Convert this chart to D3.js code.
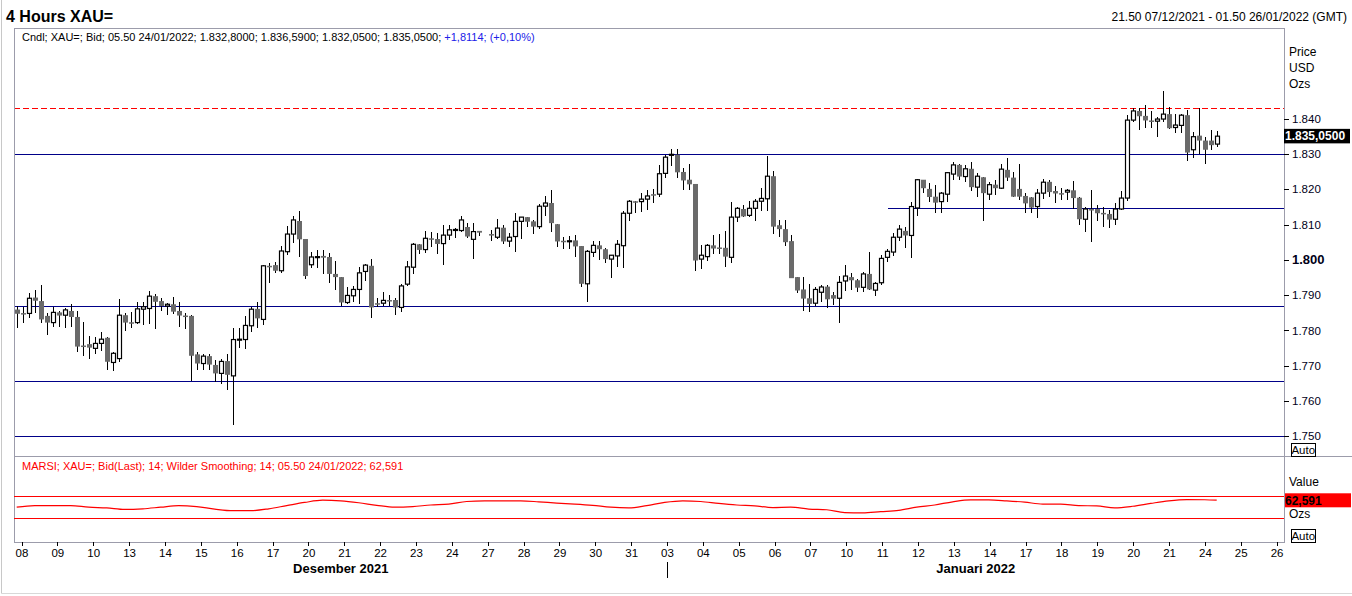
<!DOCTYPE html>
<html>
<head>
<meta charset="utf-8">
<script src="https://cdnjs.cloudflare.com/ajax/libs/d3/7.8.5/d3.min.js"></script>
<style>
  body { margin: 0; background: #fff; }
  svg { display: block; font-family: Arial, "Liberation Sans", sans-serif; }
</style>
</head>
<body>
<div id="chart"></div>
<script>
// Day tick labels (trading days) and month captions
const dayLabels = ["08","09","10","13","14","15","16","17","20","21","22","23","24","27","28","29","30","31",
                   "03","04","05","06","07","10","11","12","13","14","17","18","19","20","21","24","25","26"];
const monthLabels = ["Desember 2021", "Januari 2022"];
const priceTicks = [1750, 1760, 1770, 1780, 1790, 1800, 1810, 1820, 1830, 1840];

// 4-hour candles, index 0 = 21.50 07/12/2021 ... index 200 = 05.50 24/01/2022 (null = no candle)
const opens = [
1785.9,1784.9,1784.8,1789.3,1788.3,1784.1,1782.2,1785.1,1784.3,1785.5,
1783.8,1775.7,1776.1,1774.9,1776.3,1777.9,1770.9,1772.0,1784.3,1782.3,
1782.2,1786.0,1786.2,1789.7,1788.3,1786.9,1787.4,1785.5,1784.2,1784.1,
1773.2,1770.6,1772.7,1770.2,1767.8,1771.3,1767.1,1777.4,1777.4,1781.3,
1786.1,1783.1,1798.3,1798.5,1796.9,1802.3,1807.3,1811.0,1805.9,1798.6,
1800.8,1801.1,1800.8,1796.0,1795.1,1787.9,1789.8,1791.6,1796.7,1798.3,
1787.7,1787.7,1788.6,1788.6,1786.5,1793.1,1797.9,1804.4,1802.9,1806.1,
1805.9,1804.6,1807.0,1808.5,1808.3,1809.3,1805.8,1808.2,null,1807.3,
1806.4,1809.1,1805.3,1806.6,1810.9,1812.1,1810.9,1809.4,1815.2,1816.1,
1810.1,1805.4,1805.3,1805.5,1803.9,1793.2,1802.1,1804.1,1803.0,1800.2,
1801.1,1804.0,1813.2,1816.6,1816.5,1817.2,1818.6,1818.6,1824.5,1829.8,
1829.8,1824.9,1822.7,1821.5,1800.2,1800.9,1804.1,1803.5,1803.4,1800.7,
1812.1,1814.4,1812.6,1814.6,1816.6,1817.3,1823.7,1809.8,1808.7,1805.3,
1795.1,1791.6,1789.1,1787.7,1790.8,1792.4,1790.0,1789.1,1794.0,1795.1,
1794.2,1792.2,1796.0,1791.4,1793.5,1800.7,1802.2,1806.4,1808.2,1806.9,
1814.7,1822.7,1820.1,1817.9,1816.5,1818.6,1824.3,1826.9,1823.6,1825.8,
1820.6,1823.4,1818.6,1821.3,1820.3,1825.5,1823.3,1820.1,1818.1,1817.7,
1815.1,1818.9,1822.1,1819.5,1818.9,1819.2,1819.7,1817.6,1811.5,1814.4,
1814.4,1813.3,1813.0,1811.5,1814.4,1817.5,1839.6,1842.2,1840.8,1839.5,
1839.3,1839.9,1841.3,1837.5,1838.1,1841.0,1831.2,1835.2,1833.8,1833.8,
1832.80];
const highs = [
1787.0,1786.7,1790.5,1791.4,1792.9,1784.8,1786.7,1785.5,1786.2,1787.4,
1785.5,1782.5,1778.4,1778.2,1779.4,1778.2,1773.8,1788.9,1784.8,1785.1,
1788.0,1788.0,1791.3,1790.2,1789.1,1787.7,1789.6,1787.9,1784.8,1784.4,
1773.8,1773.2,1773.2,1771.6,1771.8,1773.3,1780.6,1780.8,1784.1,1786.7,
1787.9,1798.5,1799.0,1799.4,1803.9,1809.6,1812.3,1813.9,1805.9,1802.2,
1802.8,1802.8,1802.0,1799.7,1795.1,1792.2,1792.6,1797.9,1798.7,1800.2,
1789.3,1790.8,1790.0,1789.3,1793.1,1799.8,1804.8,1804.4,1808.2,1807.8,
1807.5,1809.9,1809.9,1809.1,1812.3,1810.4,1810.4,1808.2,null,1808.5,
1811.6,1809.9,1807.5,1813.2,1812.1,1812.1,1811.3,1815.8,1818.0,1819.8,
1810.1,1806.6,1806.8,1806.9,1803.9,1802.7,1805.4,1805.4,1803.3,1801.3,
1805.6,1813.9,1817.0,1816.7,1818.9,1819.8,1820.1,1826.9,1829.8,1831.5,
1831.5,1826.0,1827.2,1821.5,1804.1,1804.5,1807.1,1807.3,1808.2,1816.3,
1815.1,1815.4,1816.7,1817.2,1820.3,1829.5,1825.2,1811.3,1811.3,1807.1,
1795.1,1795.0,1793.2,1792.2,1792.9,1792.9,1791.0,1795.4,1798.5,1796.2,
1794.6,1796.6,1802.3,1793.8,1801.4,1803.0,1807.7,1809.9,1809.2,1816.3,
1823.0,1822.7,1821.7,1821.3,1819.2,1825.0,1827.6,1827.2,1826.8,1827.7,
1824.6,1823.4,1822.0,1822.7,1827.2,1828.8,1824.9,1827.2,1818.9,1817.7,
1820.1,1823.0,1822.5,1820.8,1820.3,1820.1,1822.4,1817.8,1815.1,1819.8,
1815.6,1815.1,1814.0,1816.0,1819.4,1841.1,1843.0,1843.0,1844.0,1842.1,
1840.4,1847.8,1843.3,1841.3,1841.3,1842.6,1836.1,1843.0,1834.8,1836.7,
1836.59];
const lows = [
1780.8,1782.2,1783.6,1784.8,1782.2,1778.7,1781.0,1781.0,1780.8,1781.0,
1773.8,1772.8,1771.8,1773.3,1774.1,1768.7,1768.5,1771.1,1779.9,1780.6,
1781.9,1781.5,1781.8,1780.4,1785.5,1784.4,1784.5,1781.0,1780.3,1765.6,
1768.9,1768.9,1768.7,1765.4,1764.9,1763.1,1753.1,1774.9,1774.8,1779.6,
1780.8,1781.5,1793.5,1796.4,1796.4,1801.3,1804.7,1800.9,1794.6,1797.8,
1797.8,1796.0,1793.3,1791.4,1786.9,1787.4,1787.9,1787.6,1794.1,1783.6,
1786.5,1787.0,1786.9,1784.3,1785.3,1792.6,1796.1,1801.7,1802.0,1803.5,
1801.7,1798.4,1805.6,1806.1,1807.8,1806.1,1800.3,1806.8,null,1805.2,
1805.8,1804.5,1803.6,1802.1,1805.8,1809.4,1807.3,1808.8,1812.3,1807.8,
1803.5,1803.1,1803.1,1800.7,1792.4,1788.1,1800.9,1800.0,1799.2,1794.8,
1797.9,1797.6,1810.9,1813.4,1813.5,1814.2,1816.1,1817.8,1823.2,1826.5,
1823.2,1819.8,1819.7,1796.9,1797.5,1799.8,1801.7,1801.7,1797.9,1799.0,
1810.6,1812.1,1812.1,1811.1,1813.9,1813.9,1807.3,1806.6,1803.9,1794.8,
1790.5,1785.6,1785.3,1786.9,1788.1,1786.2,1787.2,1782.0,1791.3,1791.4,
1791.0,1790.8,1791.4,1789.8,1792.9,1799.5,1801.1,1805.2,1803.3,1800.4,
1812.5,1818.9,1816.3,1813.4,1813.2,1816.5,1822.5,1822.7,1822.1,1819.4,
1817.8,1810.9,1817.0,1818.4,1820.0,1822.4,1817.9,1817.0,1813.2,1813.2,
1811.8,1817.3,1817.7,1816.0,1817.0,1817.0,1814.3,1809.9,1808.0,1805.0,
1811.0,1809.4,1809.1,1809.9,1814.2,1816.8,1839.0,1836.9,1837.4,1837.4,
1834.7,1839.2,1837.1,1835.9,1835.9,1827.9,1829.0,1830.0,1827.1,1831.1,
1832.05];
const closes = [
1784.7,1784.8,1789.1,1788.4,1783.1,1782.2,1785.1,1784.2,1785.8,1783.8,
1775.4,1775.6,1775.1,1776.3,1777.5,1771.1,1773.5,1784.3,1782.2,1782.2,
1786.1,1786.7,1789.7,1788.1,1786.9,1787.4,1785.3,1784.2,1784.1,1772.8,
1770.6,1772.7,1770.3,1767.8,1771.2,1767.4,1777.4,1777.5,1781.4,1786.0,
1783.4,1798.3,1798.2,1796.9,1802.5,1807.3,1811.3,1805.8,1795.4,1800.8,
1800.9,1800.6,1796.0,1795.1,1787.9,1789.9,1791.6,1796.3,1798.5,1786.5,
1787.6,1788.5,1788.2,1786.5,1792.6,1798.0,1804.4,1802.8,1806.1,1805.7,
1804.5,1807.0,1808.5,1808.6,1811.3,1806.6,1808.0,1807.7,null,1806.9,
1809.0,1805.2,1806.4,1810.9,1812.1,1810.8,1809.4,1815.2,1816.1,1810.4,
1805.2,1805.3,1805.4,1803.8,1793.2,1802.4,1804.1,1803.0,1800.2,1801.3,
1804.4,1813.2,1816.6,1816.4,1817.2,1818.1,1818.5,1824.4,1829.1,1829.9,
1824.8,1822.5,1821.4,1799.8,1801.3,1804.1,1803.2,1803.4,1800.9,1812.1,
1814.6,1812.3,1814.6,1816.6,1817.4,1823.7,1809.4,1808.7,1805.0,1794.8,
1791.3,1789.0,1787.5,1791.6,1792.3,1788.8,1789.0,1793.6,1795.4,1794.2,
1792.1,1796.0,1791.6,1793.3,1800.4,1802.4,1806.4,1808.7,1806.9,1815.1,
1822.7,1820.3,1817.8,1816.2,1818.9,1824.7,1826.9,1823.6,1825.8,1820.6,
1823.7,1818.9,1821.3,1820.3,1825.7,1823.3,1817.9,1817.9,1816.0,1814.8,
1818.9,1822.0,1819.2,1818.8,1818.8,1819.7,1817.5,1811.5,1814.4,1814.3,
1813.2,1812.9,1811.4,1814.4,1817.5,1839.6,1842.2,1840.7,1839.5,1839.4,
1839.9,1841.3,1837.3,1838.2,1841.0,1830.4,1834.9,1833.8,1831.2,1832.5,
1835.05];

// Horizontal reference levels drawn on the price panel
const supportLevels = [1829.9, 1786.8, 1765.5, 1749.8];
const partialLevel = { price: 1814.6, fromCandle: 145.2 };
const resistanceLevel = 1843.0;

// MARSI (14, Wilder), sampled every 3 candles, last sample on the final candle
const rsiValues = [
50.0,52.9,52.9,52.9,50.0,48.8,46.0,47.1,50.0,52.9,51.1,46.6,43.7,43.7,47.1,52.9,58.6,62.6,61.4,58.0,
53.4,50.0,51.1,54.0,55.7,60.3,61.4,61.4,61.4,59.7,57.4,55.7,53.4,50.0,48.8,52.9,58.6,61.4,60.3,56.8,
54.0,52.3,49.4,50.0,46.6,45.4,40.3,39.7,42.0,44.3,50.0,54.0,59.7,63.1,63.1,61.4,59.1,55.7,55.7,52.9,
52.3,48.8,51.7,56.8,61.4,63.7,63.4,62.591];
const rsiBands = [70, 30];

const W = 1352, H = 596;
const panel = { left: 14, right: 1284, top: 28, mid: 456, bottom: 542 };

const svg = d3.select("#chart")
  .append("svg")
    .attr("width", W)
    .attr("height", H);

// Scales
const x = d3.scaleLinear().domain([0, 200]).range([16.7, 1216.7]);
const xDay = d3.scaleLinear().domain([0, 35]).range([21.5, 1276.6]);
const y = d3.scaleLinear().domain([1750, 1840]).range([436.2, 118.7]);
const yR = d3.scaleLinear().domain([30, 70]).range([518.3, 496.1]);

const priceFmt = v => d3.format(",")(v).replace(/,/g, ".");
const row = v => Math.floor(v) + 0.5;

// Outer frame
svg.append("line").attr("x1", 1.5).attr("x2", 1.5).attr("y1", 0).attr("y2", 593.5)
  .attr("stroke", "#c8c8c8");
svg.append("line").attr("x1", 1.5).attr("x2", W).attr("y1", 593.5).attr("y2", 593.5)
  .attr("stroke", "#d8d8d8");

// Title and range
svg.append("text")
    .attr("x", 6).attr("y", 22)
    .style("font-size", "16px").style("font-weight", "bold")
    .text("4 Hours XAU=");
svg.append("text")
    .attr("x", 1347).attr("y", 21)
    .attr("text-anchor", "end")
    .style("font-size", "12px")
    .text("21.50 07/12/2021 - 01.50 26/01/2022 (GMT)");

// Reference lines
const ref = svg.append("g").attr("shape-rendering", "crispEdges");
ref.selectAll("line.sup")
  .data(supportLevels)
  .enter().append("line")
    .attr("x1", panel.left).attr("x2", panel.right)
    .attr("y1", d => row(y(d))).attr("y2", d => row(y(d)))
    .attr("stroke", "#000088");
ref.append("line")
    .attr("x1", x(partialLevel.fromCandle)).attr("x2", panel.right)
    .attr("y1", row(y(partialLevel.price))).attr("y2", row(y(partialLevel.price)))
    .attr("stroke", "#000088");
ref.append("line")
    .attr("x1", panel.left).attr("x2", panel.right)
    .attr("y1", row(y(resistanceLevel))).attr("y2", row(y(resistanceLevel)))
    .attr("stroke", "#ff0000")
    .attr("stroke-dasharray", "6,3");

// Candles
const candles = opens.map((o, i) => o == null ? null :
  { i, o, h: highs[i], l: lows[i], c: closes[i] }).filter(d => d);

const cg = svg.append("g");
cg.selectAll("line.wick")
  .data(candles)
  .enter().append("line")
    .attr("x1", d => Math.round(x(d.i)) + 0.5).attr("x2", d => Math.round(x(d.i)) + 0.5)
    .attr("y1", d => y(d.h)).attr("y2", d => y(d.l))
    .attr("stroke", "#000")
    .attr("stroke-width", 1)
    .attr("shape-rendering", "crispEdges");

cg.selectAll("rect.body")
  .data(candles)
  .enter().append("rect")
    .each(function(d) {
      const cx = Math.round(x(d.i)) + 0.5;
      const top = y(Math.max(d.o, d.c)), bot = y(Math.min(d.o, d.c));
      const up = d.c >= d.o;
      const r = d3.select(this);
      if (up) {
        const hgt = Math.max(bot - top, 1);
        r.attr("x", cx - 2).attr("width", 4)
         .attr("y", top).attr("height", hgt)
         .attr("fill", "#fff").attr("stroke", "#000").attr("stroke-width", 1.2);
      } else {
        r.attr("x", cx - 2.5).attr("width", 5)
         .attr("y", top).attr("height", Math.max(bot - top, 1.5))
         .attr("fill", "#6a6a6a");
      }
    });

// Panel frames
const frame = svg.append("g").attr("shape-rendering", "crispEdges")
  .attr("stroke", "#9c9cab").attr("fill", "none");
frame.append("rect")
    .attr("x", panel.left + 0.5).attr("y", panel.top + 0.5)
    .attr("width", panel.right - panel.left).attr("height", panel.bottom - panel.top);
frame.append("line")
    .attr("x1", panel.left).attr("x2", W)
    .attr("y1", panel.mid + 0.5).attr("y2", panel.mid + 0.5);

// Price axis
const yAxis = svg.append("g")
    .attr("transform", `translate(${panel.right},0)`)
    .call(d3.axisRight(y).tickValues(priceTicks).tickSize(5).tickPadding(3).tickFormat(priceFmt));
yAxis.select(".domain").remove();
yAxis.selectAll("text")
    .style("font-size", d => d === 1800 ? "13px" : "11.5px")
    .style("font-weight", d => d === 1800 ? "bold" : "normal")
    .attr("fill", "#000018")
    .attr("font-family", "Arial, 'Liberation Sans', sans-serif");
yAxis.selectAll("line").attr("stroke", "#000").attr("shape-rendering", "crispEdges");

// Right side captions
const sideLabel = (txt, yy) => svg.append("text")
    .attr("x", 1289).attr("y", yy).attr("dy", "0.35em")
    .style("font-size", "12px").text(txt);
sideLabel("Price", 52);
sideLabel("USD", 68);
sideLabel("Ozs", 84);

// Last price marker
const lastClose = closes[closes.length - 1];
svg.append("rect")
    .attr("x", panel.right).attr("y", y(lastClose) - 7.3)
    .attr("width", 66).attr("height", 14.5)
    .attr("fill", "#000");
svg.append("text")
    .attr("x", panel.right + 1).attr("y", y(lastClose)).attr("dy", "0.36em")
    .style("font-size", "12px").style("font-weight", "bold")
    .attr("fill", "#fff")
    .text("1.835,0500");

const autoBox = (yy) => {
  svg.append("rect").attr("x", 1291.5).attr("y", yy + 0.5).attr("width", 23.5).attr("height", 12.5)
    .attr("fill", "#fff").attr("stroke", "#000").attr("shape-rendering", "crispEdges");
  svg.append("text").attr("x", 1303.3).attr("y", yy + 7).attr("dy", "0.35em")
    .attr("text-anchor", "middle").style("font-size", "11.5px").text("Auto");
};
autoBox(443);
autoBox(529);

// Price panel header
const hdr = svg.append("text").attr("x", 22).attr("y", 41).style("font-size", "11px");
hdr.append("tspan").text("Cndl; XAU=; Bid; 05.50 24/01/2022; 1.832,8000; 1.836,5900; 1.832,0500; 1.835,0500; ");
hdr.append("tspan").attr("fill", "#2020e8").text("+1,8114; (+0,10%)");

// RSI panel
svg.append("text").attr("x", 22).attr("y", 470)
    .style("font-size", "11px").attr("fill", "#ff0000")
    .text("MARSI; XAU=; Bid(Last);  14; Wilder Smoothing; 14; 05.50 24/01/2022; 62,591");

svg.append("g").attr("shape-rendering", "crispEdges")
  .selectAll("line")
  .data(rsiBands)
  .enter().append("line")
    .attr("x1", panel.left).attr("x2", panel.right)
    .attr("y1", d => row(yR(d))).attr("y2", d => row(yR(d)))
    .attr("stroke", "#ff0000");

const rsiLine = d3.line()
    .x((d, k) => x(Math.min(k * 3, 200)))
    .y(d => yR(d))
    .curve(d3.curveMonotoneX);
svg.append("path")
    .datum(rsiValues)
    .attr("d", rsiLine)
    .attr("fill", "none")
    .attr("stroke", "#ff0000")
    .attr("stroke-width", 1.2);

sideLabel("Value", 481.5);
const lastRsi = rsiValues[rsiValues.length - 1];
svg.append("rect")
    .attr("x", panel.right + 1).attr("y", 493.3)
    .attr("width", 66).attr("height", 14)
    .attr("fill", "#ff0000");
svg.append("text")
    .attr("x", panel.right + 1).attr("y", 500.5).attr("dy", "0.36em")
    .style("font-size", "12px").style("font-weight", "bold")
    .text(d3.format(".3f")(lastRsi).replace(".", ","));
sideLabel("Ozs", 513.5);

// Time axis
const xAxis = svg.append("g")
    .attr("transform", `translate(0,${panel.bottom})`)
    .call(d3.axisBottom(xDay).tickValues(d3.range(dayLabels.length)).tickSize(4).tickPadding(3)
      .tickFormat(d => dayLabels[d]));
xAxis.select(".domain").remove();
xAxis.selectAll("text").style("font-size", "11.5px").attr("fill", "#000")
    .attr("font-family", "Arial, 'Liberation Sans', sans-serif");
xAxis.selectAll("line").attr("stroke", "#000").attr("shape-rendering", "crispEdges");

// Month boundary and captions
const monthStart = dayLabels.indexOf("03");
const boundaryX = Math.round(xDay(monthStart)) + 0.5;
svg.append("line")
    .attr("x1", boundaryX).attr("x2", boundaryX)
    .attr("y1", 562).attr("y2", 578)
    .attr("stroke", "#000").attr("shape-rendering", "crispEdges");
const monthCenters = [(panel.left + boundaryX) / 2, (boundaryX + panel.right) / 2];
svg.selectAll("text.month")
  .data(monthLabels)
  .enter().append("text")
    .attr("x", (d, k) => monthCenters[k])
    .attr("y", 573)
    .attr("text-anchor", "middle")
    .style("font-size", "13px").style("font-weight", "bold")
    .text(d => d);
</script>
</body>
</html>
